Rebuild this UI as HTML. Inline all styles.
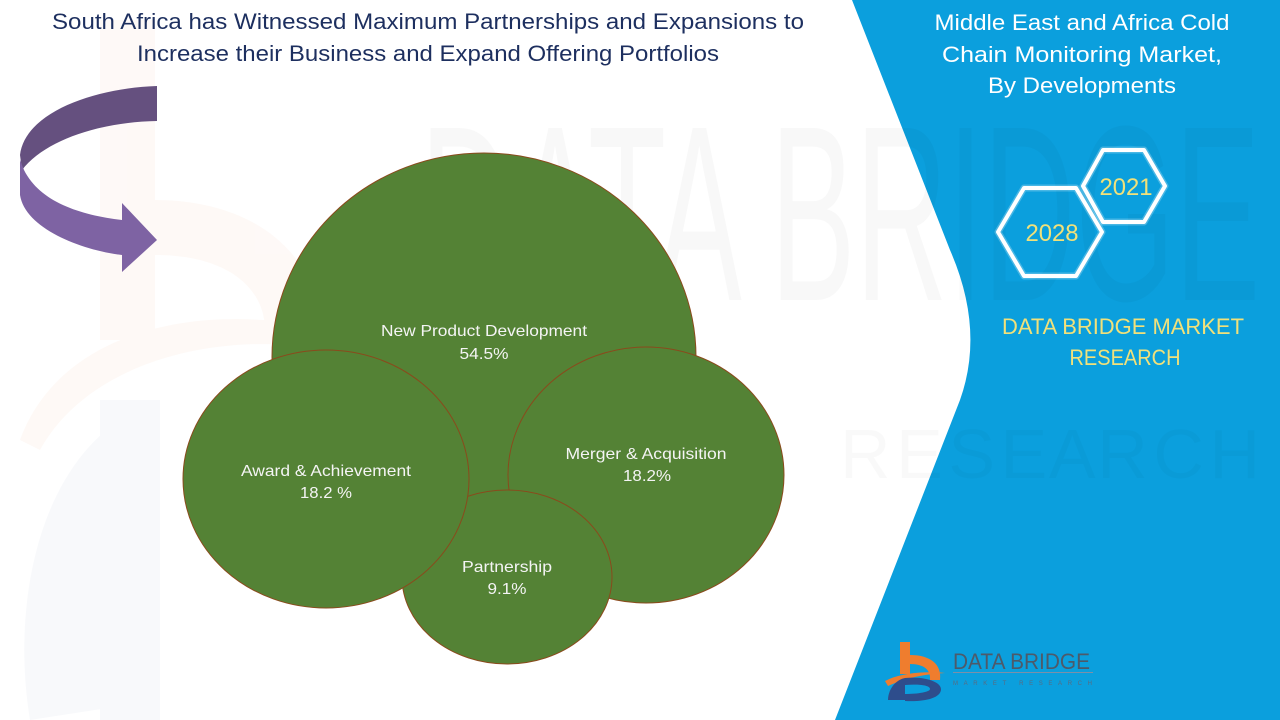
<!DOCTYPE html>
<html>
<head>
<meta charset="utf-8">
<style>
  html,body{margin:0;padding:0;background:#fff;}
  svg{display:block;}
  text{font-family:"Liberation Sans",sans-serif;}
</style>
</head>
<body>
<svg width="1280" height="720" viewBox="0 0 1280 720" xmlns="http://www.w3.org/2000/svg">
  <rect x="0" y="0" width="1280" height="720" fill="#ffffff"/>

  <!-- faint left watermark logo -->
  <g opacity="0.4">
    <rect x="100" y="20" width="55" height="320" fill="#fdf1ea"/>
    <path d="M155,200 C260,200 320,260 320,330 L265,330 C265,290 230,255 155,255 Z" fill="#fdf1ea"/>
    <path d="M20,440 C60,330 200,300 330,330 L330,350 C220,330 90,360 40,450 Z" fill="#fdf1ea"/>
    <path d="M30,720 C10,600 40,440 160,400 L160,700 Z" fill="#eef1f6"/>
    <rect x="100" y="400" width="60" height="320" fill="#eef1f6"/>
  </g>

  <!-- blue right panel -->
  <path d="M852,0 L1280,0 L1280,720 L835,720 L960,400 Q985,330 950,250 Z" fill="#0b9fdd"/>

  <!-- faint watermark text -->
  <text x="420" y="300" font-size="250" fill="#000" opacity="0.022" textLength="840" lengthAdjust="spacingAndGlyphs">DATA BRIDGE</text>
  <text x="840" y="478" font-size="70" fill="#000" opacity="0.02" textLength="420" lengthAdjust="spacing">R E S E A R C H</text>

  <!-- left title -->
  <text x="428" y="29" font-size="22" fill="#1d2f5f" text-anchor="middle" textLength="752" lengthAdjust="spacingAndGlyphs">South Africa has Witnessed Maximum Partnerships and Expansions to</text>
  <text x="428" y="61" font-size="22" fill="#1d2f5f" text-anchor="middle" textLength="582" lengthAdjust="spacingAndGlyphs">Increase their Business and Expand Offering Portfolios</text>

  <!-- right title -->
  <text x="1082" y="30" font-size="22" fill="#ffffff" text-anchor="middle" textLength="295" lengthAdjust="spacingAndGlyphs">Middle East and Africa Cold</text>
  <text x="1082" y="62" font-size="22" fill="#ffffff" text-anchor="middle" textLength="280" lengthAdjust="spacingAndGlyphs">Chain Monitoring Market,</text>
  <text x="1082" y="93" font-size="22" fill="#ffffff" text-anchor="middle" textLength="188" lengthAdjust="spacingAndGlyphs">By Developments</text>

  <!-- hexagons -->
  <g fill="none" stroke="#ffffff" stroke-linejoin="round">
    <polygon points="1083,186 1103,150 1144,150 1165,186 1144,222 1103,222" stroke-width="7" opacity="0.25"/>
    <polygon points="998,232 1024,188 1076,188 1102,232 1076,276 1024,276" stroke-width="7" opacity="0.25"/>
    <polygon points="1083,186 1103,150 1144,150 1165,186 1144,222 1103,222" stroke-width="4"/>
    <polygon points="998,232 1024,188 1076,188 1102,232 1076,276 1024,276" stroke-width="4"/>
  </g>
  <text x="1126" y="195" font-size="24" fill="#f1e17a" text-anchor="middle" textLength="53" lengthAdjust="spacingAndGlyphs">2021</text>
  <text x="1052" y="241" font-size="24" fill="#f1e17a" text-anchor="middle" textLength="53" lengthAdjust="spacingAndGlyphs">2028</text>

  <text x="1123" y="334" font-size="22" fill="#f1e17a" text-anchor="middle" textLength="242" lengthAdjust="spacingAndGlyphs">DATA BRIDGE MARKET</text>
  <text x="1125" y="365" font-size="22" fill="#f1e17a" text-anchor="middle" textLength="111" lengthAdjust="spacingAndGlyphs">RESEARCH</text>

  <!-- curved purple arrow -->
  <path d="M157,86 C95,88 25,112 20,155 L22,170 C45,140 100,122 157,121 Z" fill="#65507f"/>
  <path d="M20,160 L20,195 C25,228 80,250 122,255 L122,272 L157,240 L122,203 L122,220 C80,215 40,202 24,170 Z" fill="#7e63a3"/>

  <!-- bubbles -->
  <g stroke="#8a4a1c" stroke-width="1" fill="#548235">
    <ellipse cx="484" cy="357" rx="212" ry="204"/>
    <ellipse cx="646" cy="475" rx="138" ry="128"/>
    <ellipse cx="507" cy="577" rx="105" ry="87"/>
    <ellipse cx="326" cy="479" rx="143" ry="129"/>
  </g>

  <g fill="#f4f4f4" font-size="16" text-anchor="middle">
    <text x="484" y="336" textLength="206" lengthAdjust="spacingAndGlyphs">New Product Development</text>
    <text x="484" y="359" textLength="49" lengthAdjust="spacingAndGlyphs">54.5%</text>
    <text x="326" y="476" textLength="170" lengthAdjust="spacingAndGlyphs">Award &amp; Achievement</text>
    <text x="326" y="498" textLength="52" lengthAdjust="spacingAndGlyphs">18.2 %</text>
    <text x="646" y="459" textLength="161" lengthAdjust="spacingAndGlyphs">Merger &amp; Acquisition</text>
    <text x="647" y="481" textLength="48" lengthAdjust="spacingAndGlyphs">18.2%</text>
    <text x="507" y="572" textLength="90" lengthAdjust="spacingAndGlyphs">Partnership</text>
    <text x="507" y="594" textLength="39" lengthAdjust="spacingAndGlyphs">9.1%</text>
  </g>

  <!-- bottom logo -->
  <g>
    <rect x="900" y="642" width="10" height="32" fill="#ef7d2e"/>
    <path d="M910,655 C930,655 942,664 940,680 L930,680 C931,670 924,664 910,664 Z" fill="#ef7d2e"/>
    <path d="M885,681 C900,673 925,671 945,673 C925,674 905,678 888,686 Z" fill="#ef7d2e"/>
    <path d="M888,700 C888,690 895,680 905,678 L905,700 Z" fill="#2e4d8c"/>
    <path d="M905,678 C925,676 942,682 941,690 C940,698 925,702 905,701 L905,694 C918,694 930,692 930,689 C930,685 918,684 905,685 Z" fill="#2e4d8c"/>
    <text x="953" y="669" font-size="22" fill="#4d5a6a" textLength="137" lengthAdjust="spacingAndGlyphs">DATA BRIDGE</text>
    <rect x="953" y="672" width="140" height="1" fill="#7d8fa8"/>
    <text x="953" y="685" font-size="6" fill="#5a6a80" textLength="139" lengthAdjust="spacing">MARKET RESEARCH</text>
  </g>
</svg>
</body>
</html>
